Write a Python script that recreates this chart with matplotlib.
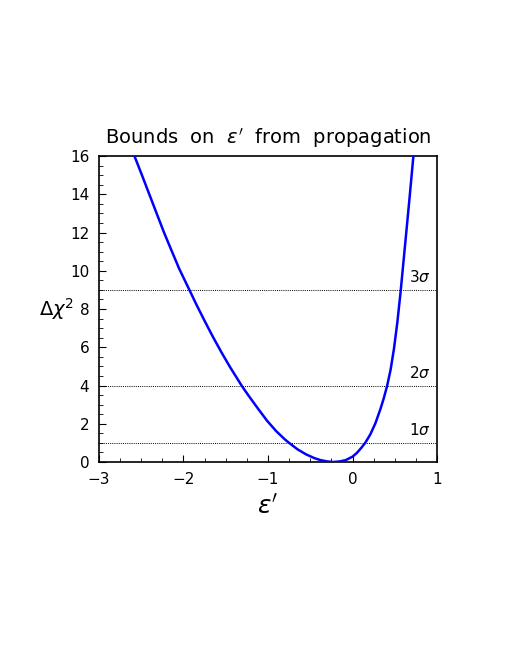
import matplotlib
matplotlib.use("Agg")
import matplotlib.pyplot as plt
from matplotlib.ticker import MultipleLocator

# curve: epsilon' vs delta chi^2
eps = [-2.58, -2.50, -2.40, -2.30, -2.23, -2.15, -2.05, -1.93, -1.85, -1.75,
       -1.65, -1.55, -1.45, -1.31, -1.23, -1.12, -1.01, -0.90, -0.80, -0.748,
       -0.65, -0.55, -0.45, -0.38, -0.30, -0.23, -0.15, -0.08, 0.00, 0.05,
       0.10, 0.15, 0.21, 0.27, 0.33, 0.37, 0.41, 0.45, 0.49, 0.53,
       0.57, 0.62, 0.67, 0.72]
dchi2 = [16.0, 15.1, 13.95, 12.8, 12.0, 11.15, 10.1, 9.0, 8.26, 7.38,
         6.53, 5.73, 4.97, 3.98, 3.47, 2.80, 2.15, 1.60, 1.18, 0.99,
         0.66, 0.40, 0.20, 0.10, 0.03, 0.0, 0.03, 0.10, 0.28, 0.47,
         0.72, 1.0, 1.44, 2.02, 2.77, 3.34, 4.0, 4.82, 5.92, 7.3,
         8.96, 11.28, 13.6, 16.0]

sigma_levels = [1, 4, 9]
sigma_labels = ["1$\\sigma$", "2$\\sigma$", "3$\\sigma$"]

fig = plt.figure(figsize=(5.1, 6.6), dpi=100)
ax = fig.add_axes([0.194, 0.300, 0.663, 0.4636])

for lev, lab in zip(sigma_levels, sigma_labels):
    ax.axhline(lev, color="black", linestyle=(0, (1, 1.2)), linewidth=0.7, zorder=1)
    ax.text(0.80, lev + 0.25, lab, ha="center", va="bottom", fontsize=11)

ax.plot(eps, dchi2, color="#0000ff", linewidth=1.8, zorder=3,
        solid_joinstyle="round")

ax.set_xlim(-3, 1)
ax.set_ylim(0, 16)
ax.xaxis.set_major_locator(MultipleLocator(1))
ax.xaxis.set_minor_locator(MultipleLocator(0.25))
ax.yaxis.set_major_locator(MultipleLocator(2))
ax.yaxis.set_minor_locator(MultipleLocator(0.5))
ax.tick_params(which="both", direction="in", top=False, right=False, labelsize=11)
ax.tick_params(which="major", length=5, width=0.8, pad=7)
ax.tick_params(which="minor", length=3, width=0.6)
for spine in ax.spines.values():
    spine.set_linewidth(1.2)

ax.set_title("Bounds  on  $\\varepsilon'$  from  propagation", fontsize=14, pad=9)
ax.set_xlabel("$\\varepsilon'$", fontsize=18, labelpad=6)
ax.set_ylabel("$\\Delta\\chi^2$", fontsize=14, rotation=0)
ax.yaxis.set_label_coords(-0.125, 0.5)
ax.yaxis.label.set_verticalalignment("center")

fig.savefig("out.png", dpi=100)
